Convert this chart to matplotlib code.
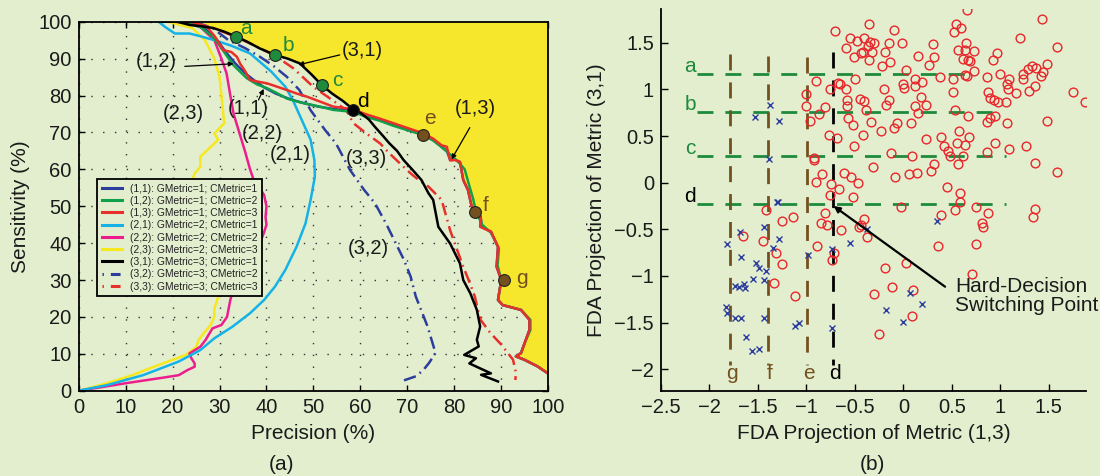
import matplotlib
matplotlib.use('Agg')
import matplotlib.pyplot as plt
from matplotlib.lines import Line2D

plt.rcParams['font.family'] = ['Liberation Sans', 'DejaVu Sans']
plt.rcParams['lines.scale_dashes'] = False
plt.rcParams['axes.unicode_minus'] = True

# ---------------- data: panel (a) precision / sensitivity curves ----------------
x11 = [18, 23, 27, 29.5, 31.5, 33.5, 35.5, 37.5, 39.5, 42, 45, 48, 51, 54.5, 58.4, 61, 64, 67, 70, 73.3,
       75.5, 77, 78.4, 79.1, 80.2, 81.2, 81.9, 82.9, 83.7, 85.6, 85.9, 87.8, 89.3, 89.0, 90.0, 89.3, 90.3,
       94.2, 96.0, 96.0, 95.0, 94.2, 93.1, 94.9, 97.7, 99.8]
y11 = [100, 100, 98, 95, 91.5, 88.5, 86, 84, 82.2, 80.5, 79, 77.9, 77, 76.3, 75.8, 74.5, 73.4, 72, 70.8, 69.5,
       67.9, 66.4, 65.0, 62.6, 62.6, 62.0, 57.1, 54.4, 49.9, 47.2, 44.4, 43.1, 39.0, 33.6, 30.0, 24.6, 23.2,
       21.9, 19.2, 16.5, 13.0, 10.2, 9.3, 8.4, 6.6, 4.8]
x12 = [17, 22, 26, 28.5, 30.2, 32.9, 34.5, 35.8, 38, 40.1, 42, 44.3, 47, 49.9, 52, 54.2, 56.5, 58.4, 61, 64,
       67, 70, 73.3, 75.5, 77, 78.4, 80, 81.2, 82.2, 83.2, 84.0, 84.6, 85.9, 87.8, 89.5, 89.2, 90.0, 89.3,
       90.3, 94.2, 96.2, 96.2, 95.0, 94.2, 93.1, 94.9, 97.7, 99.8]
y12 = [100, 100, 98.5, 96, 93.2, 88.3, 86.3, 84.7, 83, 82, 80.8, 79.2, 78.2, 77.4, 76.8, 76.1, 75.8, 75.6,
       74.3, 73.2, 71.8, 70.6, 69.3, 67.8, 66.3, 64.8, 63, 61.5, 60.0, 55.5, 52.0, 48.6, 45.0, 42.8, 38.5,
       34.0, 30.0, 24.6, 23.2, 21.9, 19.2, 16.5, 13.0, 10.2, 9.3, 8.4, 6.6, 4.8]
x13 = [19, 24, 27.3, 29, 30.8, 32.5, 33.7, 34.4, 35.5, 36.5, 38, 40.1, 42, 44.3, 46.5, 48.6, 51.5, 54.2,
       56.5, 58.4, 61, 64, 67, 70, 73.3, 75.5, 77.3, 78.4, 79.1, 80.2, 81.2, 81.9, 82.9, 83.7, 85.6, 85.5,
       87.8, 89.3, 89.0, 90.0, 89.3, 90.3, 94.2, 96.0, 96.0, 95.0, 94.2, 93.1, 94.9, 97.7, 99.8]
y13 = [100, 100, 98.6, 96, 92.3, 91.8, 90.5, 88.6, 86.5, 84.2, 83.8, 83.3, 82.5, 81.5, 80.5, 79.7, 78.3,
       77, 76.6, 76.3, 75, 73.8, 72.5, 71.2, 69.8, 68.3, 66.5, 66.1, 62.4, 62.5, 62.0, 57.1, 54.4, 49.9,
       47.2, 44.4, 43.1, 39.0, 33.6, 30.0, 24.6, 23.2, 21.9, 19.2, 16.5, 13.0, 10.2, 9.3, 8.4, 6.6, 4.8]
x21 = [17, 18.5, 20.5, 23.6, 25.5, 28.9, 32.5, 36.5, 41, 44, 45.6, 47.5, 49.4, 50.2, 50.3, 49.4, 48.3,
       46.4, 44, 41.8, 39.5, 36.5, 32.7, 28.9, 25.9, 21.3, 13.7, 6, 0]
y21 = [100, 98.5, 96.8, 96.8, 96.2, 95, 93.5, 91.4, 86.5, 82.4, 78.8, 73.4, 68, 62.5, 58, 51.7, 45.3, 39,
       32.7, 28.2, 24.6, 21, 17.3, 14.2, 11, 7.9, 4.2, 1.5, 0]
x22 = [20, 22.8, 25.9, 28.9, 30.4, 31.5, 32.3, 33, 34.2, 35.4, 36.5, 37.3, 38.5, 39.5, 40, 39.8, 40, 39.5,
       38, 35, 32.7, 32.3, 31.6, 30.4, 28.5, 27, 25.9, 23.6, 24, 24.7, 24.7, 23.2, 21.3, 18.3, 9.9, 4.6, 0]
y22 = [100, 100, 98.6, 95, 90, 86, 80, 75, 70, 65, 60, 57, 55, 53, 50, 47, 45, 43, 38, 31, 26.4, 24.6, 20,
       17.8, 16.9, 13.7, 11.9, 10.1, 8.8, 7.4, 6.5, 5.6, 4.2, 3.6, 2.0, 0.9, 0]
x23 = [17, 19, 24.3, 26.9, 28.9, 30, 30.4, 30.8, 31, 28.9, 29.7, 27.4, 25.9, 25.9, 24.7, 24.3, 25.5, 27.5,
       29.3, 30.4, 30, 28.9, 28.9, 28.1, 26.6, 25.5, 25.1, 22.8, 19, 15.2, 11.4, 6, 0]
y23 = [100, 100, 98.2, 95, 90, 85, 80, 75, 72.5, 69.7, 68, 65.2, 63.4, 60.7, 58.9, 57.4, 50, 42, 34, 27.3,
       26.4, 22.3, 20, 17.8, 15.5, 13.7, 11.9, 9.7, 7.9, 6.1, 4.2, 2, 0]
x31 = [18, 21, 23.7, 26, 28.6, 31, 33.7, 36, 38.5, 41.8, 44.5, 47.1, 49.5, 51.8, 54, 56.3, 58.4, 60.1,
       61.8, 63.1, 64.5, 66.2, 67.8, 69.2, 71, 73, 74.5, 75.5, 76.6, 79.1, 81.2, 81.9, 83.4, 84.8, 85.5,
       84.8, 85.2, 82.1, 84.6, 83.2, 87.8, 85.7, 89.3]
y31 = [100, 100, 99.1, 98.8, 98.3, 97.3, 95.9, 94.5, 92.8, 91, 90, 88.7, 85.8, 82.8, 80.5, 78.5, 76.3, 75.2,
       73.5, 71.5, 69.5, 67, 65, 62.5, 60, 57.1, 53.5, 51.7, 44.4, 39.9, 34.5, 30.0, 26.4, 21.9, 17.4,
       13.8, 12.0, 9.7, 8.8, 7.4, 4.7, 4.3, 2.5]
x32 = [20, 25, 28.5, 31.9, 35.5, 38.6, 41.5, 44.3, 47, 49.4, 52.5, 54.8, 57.8, 60.8, 63.1, 65.5, 67.2, 69.3,
       70.7, 71.8, 73.2, 74.3, 76.0, 74.6, 73.4, 71.8, 68.6]
y32 = [100, 99.8, 98.3, 95, 92.8, 90.5, 88, 85.1, 81.5, 76, 70.6, 67, 59.8, 54.4, 50.8, 45.2, 40.8, 35.4,
       30.9, 25.5, 21, 17.4, 10.2, 7.5, 5.6, 3.9, 2.5]
x33 = [20, 24, 28.6, 33.7, 38, 41.8, 45.7, 50, 54.2, 57, 58.5, 61.5, 64.2, 66.2, 68.5, 70.7, 72.5, 74.5, 77.3,
       79.1, 80.5, 81.9, 83.2, 84.4, 85.0, 85.6, 87.7, 90.0, 92.5, 93.1, 93.0]
y33 = [100, 99.8, 98.3, 95.8, 93.2, 90.8, 87.4, 82.3, 78.6, 76, 72.5, 69.5, 67, 64.3, 61.5, 58.9, 57, 55.3,
       51.7, 43.5, 38.5, 33.6, 29.5, 25.4, 22.0, 19.2, 15.6, 12.5, 8.4, 5.0, 2.9]

series_labels = ['(1,1): GMetric=1; CMetric=1', '(1,2): GMetric=1; CMetric=2', '(1,3): GMetric=1; CMetric=3',
                 '(2,1): GMetric=2; CMetric=1', '(2,2): GMetric=2; CMetric=2', '(2,3): GMetric=2; CMetric=3',
                 '(3,1): GMetric=3; CMetric=1', '(3,2): GMetric=3; CMetric=2', '(3,3): GMetric=3; CMetric=3']

# operating points on the envelope
pt_names = ['a', 'b', 'c', 'd', 'e', 'f', 'g']
pt_x = [33.6, 41.8, 51.8, 58.4, 73.4, 84.5, 90.5]
pt_y = [95.9, 91.0, 82.8, 76.1, 69.3, 48.5, 30.0]

# curve name tags
tag_text = ['(1,2)', '(3,1)', '(1,1)', '(1,3)', '(2,3)', '(2,2)', '(2,1)', '(3,3)', '(3,2)']
tag_x = [16.6, 60.3, 36.1, 84.4, 22.3, 39.0, 45.0, 61.3, 61.6]
tag_y = [89.2, 92.3, 76.5, 76.5, 75.2, 69.7, 64.1, 63.0, 38.6]

# ---------------- data: panel (b) FDA projections ----------------
red_x = [-0.354, -0.703, -0.097, -0.552, -0.483, -0.411, -0.343, -0.302, -0.360, -0.593, -0.148, -0.010,
         -0.439, -0.507, -0.415, -0.319, -0.354, -0.192, -0.137, -0.216, 0.150, 0.024, -0.901, -0.753,
         -0.678, -0.654, -0.590, -0.497, -0.199, -0.004, 0.006, 0.123, 0.123, -1.004, -1.004, -0.583,
         -0.583, -0.446, -0.411, -0.384, -0.148, -0.178, -0.808, -0.869, -0.576, -0.524, -0.336, -0.233,
         -0.097, -0.069, 0.082, 0.116, 0.154, -0.765, -0.689, -0.421, -0.966,
         0.658, 1.429, 0.545, 0.596, 0.524, 1.206, 0.301, 0.647, 1.583, 0.561, 0.640, 0.726, 0.966, 0.315,
         0.613, 0.664, 0.684, 0.925, 0.267, 1.486, 1.288, 1.322, 1.370, 1.439, 1.421, 1.236, 1.236, 0.726,
         0.640, 0.657, 0.376, 0.514, 0.863, 0.993, 1.085, 1.069, 1.079, 1.164, 1.295, 1.353, 1.753, 1.874,
         0.195, 0.507, 0.877, 0.897, 0.938, 0.972, 1.059, 0.178, 0.229, 0.534, 0.664, 0.941, 0.890, 0.865,
         1.069, 1.486, 0.576, 0.229, 0.383, 0.678,
         0.548, 0.418, 0.462, 0.486, 0.613, 0.633, 0.565, 0.949, 0.863, 1.085, 1.267, 1.353, 1.583, 0.092,
         0.315, 0.281, 0.445, 0.589, 0.579, 0.530, 0.391, 0.753, 0.869, 0.812, 0.822, 1.353, 1.336, 0.360,
         0.753,
         -0.507, -0.919, -0.925, -0.312, -0.840, -0.901, -0.610, -0.542, -0.473, -0.086, 0.058, 0.137,
         -0.747, -0.668, -0.753, -0.524, -0.028, -1.415, -1.251, -1.141, -0.850, -0.791, -0.809, -0.644,
         -0.405, -0.457, -0.440, -0.377, -1.655, -1.449, -1.312, -0.894, -0.713, -0.740, -1.254, -0.192,
         0.031, -0.130,
         -1.330, -1.117, 0.709, -0.113, -0.302, 0.099, 0.085, -0.251]
red_y = [1.700, 1.626, 1.633, 1.554, 1.519, 1.548, 1.511, 1.494, 1.465, 1.447, 1.501, 1.494,
         1.387, 1.344, 1.404, 1.404, 1.315, 1.404, 1.297, 1.254, 1.358, 1.208, 1.093, 1.001,
         1.065, 1.058, 1.008, 1.115, 1.008, 1.058, 1.012, 1.115, 1.036, 0.947, 0.822, 0.886,
         0.822, 0.894, 0.879, 0.779, 0.886, 0.836, 0.815, 0.733, 0.690, 0.618, 0.654, 0.554,
         0.583, 0.643, 0.643, 0.822, 0.751, 0.511, 0.476, 0.511, 0.661,
         1.851, 1.751, 1.698, 1.655, 1.619, 1.554, 1.490, 1.494, 1.451, 1.422, 1.422, 1.412, 1.393, 1.344,
         1.322, 1.315, 1.304, 1.315, 1.261, 1.272, 1.219, 1.251, 1.233, 1.187, 1.144, 1.165, 1.111, 1.194,
         1.154, 1.144, 1.129, 1.111, 1.129, 1.165, 1.108, 1.058, 1.001, 0.965, 0.986, 1.036, 0.975, 0.868,
         1.083, 0.969, 0.969, 0.905, 0.886, 0.868, 0.868, 0.915, 0.833, 0.779, 0.715, 0.715, 0.690, 0.654,
         0.637, 0.665, 0.557, 0.465, 0.487, 0.493,
         0.422, 0.393, 0.343, 0.286, 0.286, 0.404, 0.197, 0.422, 0.332, 0.358, 0.397, 0.207, 0.118, 0.289,
         0.197, 0.126, -0.049, -0.114, -0.204, -0.293, -0.347, -0.264, -0.328, -0.435, -0.478, -0.279,
         -0.365, -0.678, -0.660,
         0.397, 0.265, 0.245, 0.165, 0.090, 0.011, 0.107, 0.058, -0.006, 0.064, 0.093, 0.107,
         -0.017, -0.071, -0.132, -0.150, -0.264, -0.293, -0.411, -0.365, -0.428, -0.453, -0.328, -0.512,
         -0.393, -0.472, -0.455, -0.586, -0.571, -0.625, -0.750, -0.675, -0.750, -0.829, -0.875, -0.918,
         -0.858, 0.320,
         -1.078, -1.211, -0.979, -1.121, -1.196, -1.150, -1.429, -1.622]
blue_x = [-1.371, -1.528, -1.285, -1.381, -1.302, -1.290, -1.433, -1.278, -1.340, -0.987, -0.740, -0.552,
          -0.377, -1.690, -1.816, -1.679, -1.518, -1.494, -1.412, -1.546, -1.439, -1.733, -1.700, -1.645,
          -1.631, -1.826, -1.819, -1.733, -1.672, -1.439, -1.628, -1.562, -1.490, -1.117, -1.081, -0.737,
          0.342, 0.065, 0.188, -0.182, 0.000]
blue_y = [0.829, 0.701, 0.661, 0.251, -0.210, -0.210, -0.478, -0.603, -0.703, -0.776, -0.714, -0.650,
          -0.500, -0.532, -0.657, -0.800, -0.864, -0.911, -0.947, -1.032, -1.043, -1.107, -1.114, -1.086,
          -1.132, -1.329, -1.400, -1.447, -1.454, -1.447, -1.657, -1.801, -1.783, -1.536, -1.507, -1.554,
          -0.407, -1.185, -1.300, -1.365, -1.490]

h_names = ['a', 'b', 'c', 'd']
h_levels = [1.165, 0.758, 0.288, -0.232]
h_start = -2.13
h_ends = [0.70, 0.92, 1.06, 1.06]
v_names = ['g', 'f', 'e', 'd']
v_levels = [-1.79, -1.40, -0.995, -0.73]
v_tops = [1.38, 1.36, 1.35, 1.40]
v_bottom = -1.95

xticks_b = [-2.5, -2, -1.5, -1, -0.5, 0, 0.5, 1, 1.5]
xticklabels_b = ['\u22122.5', '\u22122', '\u22121.5', '\u22121', '\u22120.5', '0', '0.5', '1', '1.5']
yticks_b = [-2, -1.5, -1, -0.5, 0, 0.5, 1, 1.5]
yticklabels_b = ['\u22122', '\u22121.5', '\u22121', '\u22120.5', '0', '0.5', '1', '1.5']

# ---------------- styles ----------------
BG = '#E3EECF'
YFILL = '#F6E62C'
C_BLUE = '#2C3D9C'
C_GREEN = '#10A04A'
C_RED = '#E8302A'
C_CYAN = '#14B2E6'
C_MAG = '#EC1E8E'
C_YEL = '#F7E81E'
C_DKGREEN = '#1E8A3C'
C_BROWN = '#74501E'
TXT = '#1A1A1A'
FS_TICK = 14.5
FS_LAB = 15

fig = plt.figure(figsize=(11, 4.76), dpi=100, facecolor=BG)
axL = fig.add_axes([0.0715, 0.1792, 0.4269, 0.7752], facecolor=BG)
axR = fig.add_axes([0.6009, 0.1786, 0.3864, 0.8025], facecolor=BG)

# ---------------- panel (a) ----------------
axL.set_xlim(0, 100)
axL.set_ylim(0, 100)
axL.set_axisbelow(True)
axL.grid(True, color='#333333', linewidth=1.0, linestyle=(0, (1.0, 7.5)))

# yellow region above the best envelope: (3,1) up to point d, then (1,3)
d_idx31 = x31.index(58.4)
d_idx13 = x13.index(58.4)
env_x = x31[:d_idx31 + 1] + x13[d_idx13 + 1:]
env_y = y31[:d_idx31 + 1] + y13[d_idx13 + 1:]
poly_x = env_x + [100, 100, env_x[0]]
poly_y = env_y + [env_y[-1], 100, 100]
axL.fill(poly_x, poly_y, color=YFILL, lw=0, zorder=1)

LW = 1.8
dashdot = (0, (9, 3.5, 1.2, 3.5))
curves = [
    (x23, y23, C_YEL, '-', 5),
    (x22, y22, C_MAG, '-', 6),
    (x21, y21, C_CYAN, '-', 7),
    (x32, y32, C_BLUE, dashdot, 8),
    (x33, y33, C_RED, dashdot, 9),
    (x11, y11, C_BLUE, '-', 10),
    (x12, y12, C_GREEN, '-', 11),
    (x13, y13, C_RED, '-', 12),
    (x31, y31, 'black', '-', 13),
]
for xs, ys, c, ls, z in curves:
    axL.plot(xs, ys, color=c, lw=LW, ls=ls, zorder=z, solid_joinstyle='round')

pt_face = [C_DKGREEN, C_DKGREEN, C_DKGREEN, 'black', C_BROWN, C_BROWN, C_BROWN]
pt_txt = [C_DKGREEN, C_DKGREEN, C_DKGREEN, 'black', C_BROWN, C_BROWN, C_BROWN]
pt_dx = [2.0, 2.9, 3.2, 2.2, 1.4, 2.2, 3.8]
pt_dy = [2.3, 2.5, 1.4, 2.4, 4.5, 1.8, 0.4]
for n, x, y, fc, tc, dx, dy in zip(pt_names, pt_x, pt_y, pt_face, pt_txt, pt_dx, pt_dy):
    axL.plot([x], [y], 'o', ms=8.5, mfc=fc, mec='#222222', mew=0.8, zorder=20)
    axL.text(x + dx, y + dy, n, color=tc, fontsize=15, ha='center', va='center', zorder=21)

for t, x, y in zip(tag_text, tag_x, tag_y):
    axL.text(x, y, t, fontsize=14.5, color=TXT, ha='center', va='center', zorder=22)

arrow_tail = {'(1,2)': (22.6, 87.9), '(3,1)': (55.6, 91.0), '(1,1)': (38.3, 78.8), '(1,3)': (83.3, 71.3)}
arrow_head = {'(1,2)': (33.0, 88.6), '(3,1)': (46.8, 88.3), '(1,1)': (39.4, 81.8), '(1,3)': (79.4, 62.7)}
for k in arrow_tail:
    axL.annotate('', xy=arrow_head[k], xytext=arrow_tail[k],
                 arrowprops=dict(arrowstyle='-|>', color='black', lw=0.9, mutation_scale=7,
                                 shrinkA=0, shrinkB=0), zorder=22)

axL.set_xticks(range(0, 101, 10))
axL.set_yticks(range(0, 101, 10))
axL.tick_params(direction='in', length=4, width=1, top=True, right=True, labelsize=FS_TICK,
                colors='black', labelcolor=TXT, pad=5)
for s in axL.spines.values():
    s.set_linewidth(1.3)
    s.set_color('black')
    s.set_zorder(30)
axL.set_xlabel('Precision (%)', fontsize=FS_LAB, color=TXT, labelpad=5)
axL.set_ylabel('Sensitivity (%)', fontsize=FS_LAB, color=TXT, labelpad=6)

handles = [
    Line2D([], [], color=C_BLUE, lw=2.2),
    Line2D([], [], color=C_GREEN, lw=2.2),
    Line2D([], [], color=C_RED, lw=2.2),
    Line2D([], [], color=C_CYAN, lw=2.2),
    Line2D([], [], color=C_MAG, lw=2.2),
    Line2D([], [], color=C_YEL, lw=2.2),
    Line2D([], [], color='black', lw=2.2),
    Line2D([], [], color=C_BLUE, lw=2.2, ls=(0, (1, 5, 7, 3))),
    Line2D([], [], color=C_RED, lw=2.2, ls=(0, (1, 5, 7, 3))),
]
leg = axL.legend(handles, series_labels, loc='upper left', bbox_to_anchor=(0.04, 0.574),
                 borderaxespad=0, fontsize=7.4, handlelength=1.9, handletextpad=0.8,
                 labelspacing=0.22, borderpad=0.45, fancybox=False, framealpha=1,
                 facecolor=BG, edgecolor='black')
leg.get_frame().set_linewidth(1.3)
leg.set_zorder(40)
for t in leg.get_texts():
    t.set_color('#222222')

# ---------------- panel (b) ----------------
axR.set_xlim(-2.5, 1.884)
axR.set_ylim(-2.233, 1.862)
DASH = (0, (11.5, 8.6))
for n, lev, xe in zip(h_names, h_levels, h_ends):
    axR.plot([h_start, xe], [lev, lev], color=C_DKGREEN, lw=2.0, ls=DASH, zorder=2)
for n, lev, yt in zip(v_names, v_levels, v_tops):
    col = 'black' if n == 'd' else C_BROWN
    axR.plot([lev, lev], [yt, v_bottom], color=col, lw=2.0, ls=DASH, zorder=3)

axR.plot(red_x, red_y, ls='none', marker='o', ms=6.3, mfc='none', mec='#E8262B', mew=1.0, zorder=4)
axR.plot(blue_x, blue_y, ls='none', marker='x', ms=4.5, mec=C_BLUE, mew=1.0, zorder=5)

h_lab_col = [C_DKGREEN, C_DKGREEN, C_DKGREEN, 'black']
for n, lev, c in zip(h_names, h_levels, h_lab_col):
    axR.text(-2.2, lev + 0.08, n, color=c, fontsize=15, ha='center', va='center')
v_lab_col = [C_BROWN, C_BROWN, C_BROWN, 'black']
for n, lev, c in zip(v_names, v_levels, v_lab_col):
    axR.text(lev + 0.02, -2.05, n, color=c, fontsize=15, ha='center', va='center')

axR.annotate('', xy=(-0.72, -0.25), xytext=(0.43, -1.115),
             arrowprops=dict(arrowstyle='-|>', color='black', lw=1.6, mutation_scale=9,
                             shrinkA=0, shrinkB=0), zorder=6)
axR.text(0.53, -1.22, 'Hard-Decision\nSwitching Point', fontsize=15, color=TXT, ha='left',
         va='center', linespacing=1.0)

axR.set_xticks(xticks_b)
axR.set_xticklabels(xticklabels_b)
axR.set_yticks(yticks_b)
axR.set_yticklabels(yticklabels_b)
axR.tick_params(direction='in', length=5, width=1, labelsize=FS_TICK, colors='black',
                labelcolor=TXT, pad=5)
axR.spines['top'].set_visible(False)
axR.spines['right'].set_visible(False)
for s in ('left', 'bottom'):
    axR.spines[s].set_linewidth(1.3)
    axR.spines[s].set_color('black')
axR.set_xlabel('FDA Projection of Metric (1,3)', fontsize=FS_LAB, color=TXT, labelpad=5)
axR.set_ylabel('FDA Projection of Metric (3,1)', fontsize=FS_LAB, color=TXT, labelpad=6)

fig.text(281 / 1100, 1 - 464 / 476, '(a)', fontsize=FS_LAB, color=TXT, ha='center', va='center')
fig.text(872 / 1100, 1 - 464 / 476, '(b)', fontsize=FS_LAB, color=TXT, ha='center', va='center')

fig.savefig('out.png', dpi=100, facecolor=BG)
